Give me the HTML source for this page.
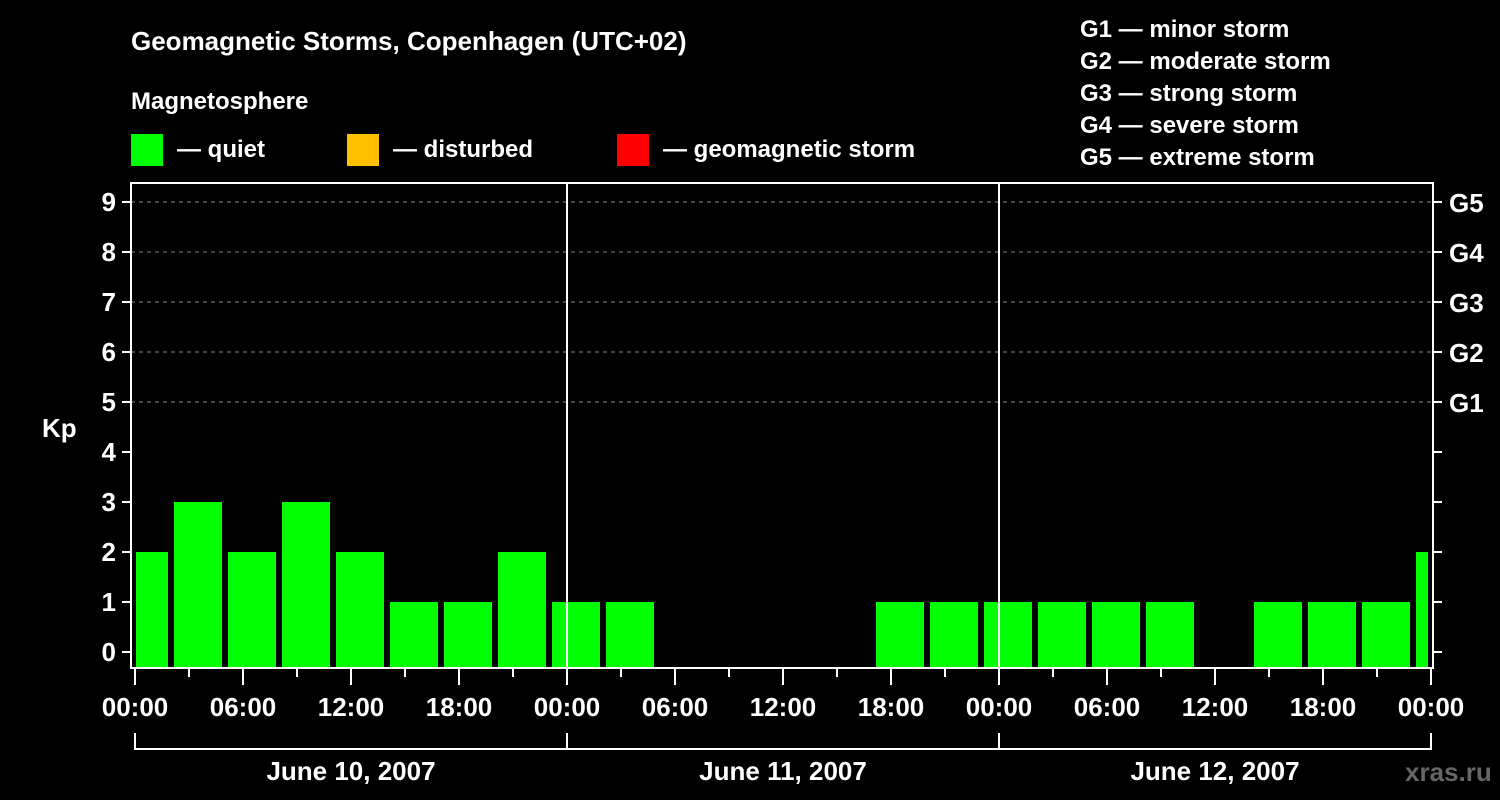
<!DOCTYPE html>
<html><head><meta charset="utf-8"><style>
body{margin:0;background:#000;width:1500px;height:800px;overflow:hidden}
svg{display:block;font-family:"Liberation Sans",Arial,sans-serif;font-weight:bold}
</style></head><body>
<svg id="c" width="1500" height="800">
<text x="131" y="50" fill="#fff" font-size="26">Geomagnetic Storms, Copenhagen (UTC+02)</text>
<text x="131" y="109" fill="#fff" font-size="24">Magnetosphere</text>
<g><rect x="131" y="134" width="32" height="32" fill="#00ff00"/><text x="177" y="157" fill="#fff" font-size="24">— quiet</text></g>
<g><rect x="347" y="134" width="32" height="32" fill="#ffc000"/><text x="393" y="157" fill="#fff" font-size="24">— disturbed</text></g>
<g><rect x="617" y="134" width="32" height="32" fill="#ff0000"/><text x="663" y="157" fill="#fff" font-size="24">— geomagnetic storm</text></g>
<g fill="#fff" font-size="24">
<text x="1080" y="37">G1 — minor storm</text><text x="1080" y="69">G2 — moderate storm</text><text x="1080" y="101">G3 — strong storm</text><text x="1080" y="133">G4 — severe storm</text><text x="1080" y="165">G5 — extreme storm</text>
</g>
<text x="42" y="437" fill="#fff" font-size="26">Kp</text>
<text x="1405" y="781" fill="#666" font-size="26">xras.ru</text>
<g id="g"></g>
</svg>
<script>
const kpValues=[2,3,2,3,2,1,1,2,1,1,0,0,0,0,1,1,1,1,1,1,0,1,1,1,2];
const slotStartHours=-1; // first 3h slot starts at 23:00 of previous day (local)
const yTicks=[0,1,2,3,4,5,6,7,8,9];
const gLabels=["G1","G2","G3","G4","G5"];
const xTickLabels=["00:00","06:00","12:00","18:00"];
const dayLabels=["June 10, 2007","June 11, 2007","June 12, 2007"];
const NS="http://www.w3.org/2000/svg",g=document.getElementById('g');
const L=131,R=1433,T=183,B=668,X0=135,PXH=18;
const yS=v=>652-v*50, xS=h=>X0+h*PXH;
function mk(t,a,txt){const e=document.createElementNS(NS,t);for(const k in a)e.setAttribute(k,a[k]);if(txt!=null)e.textContent=txt;g.appendChild(e);return e;}
// clip
const cp=mk('clipPath',{id:'pc'});const cr=document.createElementNS(NS,'rect');cr.setAttribute('x',136);cr.setAttribute('y',T);cr.setAttribute('width',1428-136);cr.setAttribute('height',B-T);cp.appendChild(cr);
// grid
[5,6,7,8,9].forEach(v=>{const e=mk('line',{x1:L,x2:R,y1:yS(v),y2:yS(v),stroke:'#888','stroke-dasharray':'4 4','stroke-width':1});

});
// bars
kpValues.forEach((v,i)=>{if(v<=0)return;const x=xS(slotStartHours+i*3)+3;
const e=mk('rect',{x:x,y:yS(v),width:48,height:B-yS(v),fill:v>=5?'#ff0000':(v>=4?'#ffc000':'#00ff00'),'clip-path':'url(#pc)'});

});
// day dividers
[1,2].forEach(d=>{const e=mk('line',{x1:xS(d*24),x2:xS(d*24),y1:T,y2:B,stroke:'#fff','stroke-width':2});

});
// frame
const f=mk('rect',{x:L,y:T,width:R-L,height:B-T,fill:'none',stroke:'#fff','stroke-width':2});


// y ticks
yTicks.forEach(v=>{mk('line',{x1:122,x2:L,y1:yS(v),y2:yS(v),stroke:'#fff','stroke-width':2});
mk('line',{x1:R,x2:1442,y1:yS(v),y2:yS(v),stroke:'#fff','stroke-width':2});
const t=mk('text',{x:116,y:yS(v)+9,fill:'#fff','font-size':26,'text-anchor':'end'},v);

});
gLabels.forEach((s,i)=>{const t=mk('text',{x:1449,y:yS(5+i)+10,fill:'#fff','font-size':26},s);

});
// x ticks
for(let h=0;h<=72;h+=3){const major=h%6===0;mk('line',{x1:xS(h),x2:xS(h),y1:B,y2:major?685:677,stroke:'#fff','stroke-width':2});
if(major){const t=mk('text',{x:xS(h),y:716,fill:'#fff','font-size':26,'text-anchor':'middle'},xTickLabels[(h/6)%4]);

}}
// day bracket
mk('line',{x1:xS(0),x2:xS(72),y1:749,y2:749,stroke:'#fff','stroke-width':2});
for(let d=0;d<=3;d++)mk('line',{x1:xS(d*24),x2:xS(d*24),y1:733,y2:750,stroke:'#fff','stroke-width':2});
dayLabels.forEach((s,d)=>{const t=mk('text',{x:xS(d*24+12),y:780,fill:'#fff','font-size':26,'text-anchor':'middle'},s);

});
</script>
</body></html>
